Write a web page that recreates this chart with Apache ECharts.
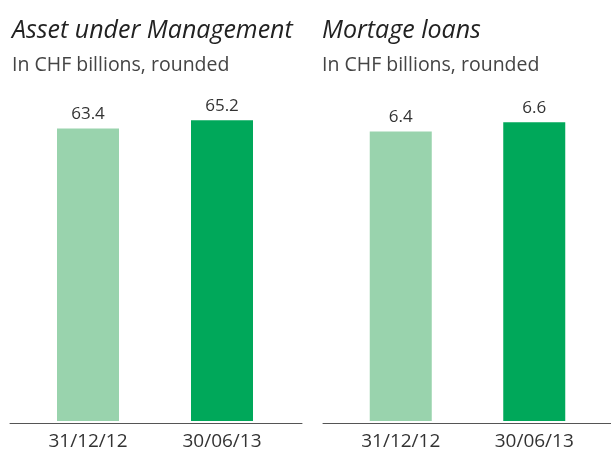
<!DOCTYPE html>
<html>
<head>
<meta charset="utf-8">
<script src="https://cdn.jsdelivr.net/npm/echarts@6/dist/echarts.min.js"></script>
<style>
  html, body { margin: 0; padding: 0; background: #fff; }
  #chart { width: 611px; height: 451px; }
</style>
</head>
<body>
<div id="chart"></div>
<script>
// data
const categories = ['31/12/12', '30/06/13']
const aumValues = [63.4, 65.2]
const mortgageValues = [6.4, 6.6]
const panelTitles = ['Asset under Management', 'Mortage loans']
const panelSubtitle = 'In CHF billions, rounded'

const barColors = ['#99d3ad', '#00a85a']
const font = '"Open Sans", sans-serif'

const chart = echarts.init(document.getElementById('chart'))

// bars as data items so each gets its own colour
function barData (values) {
  return values.map((v, i) => ({ value: v, itemStyle: { color: barColors[i] } }))
}

// axis used only for the long baseline under each panel
function baseAxis (gridIndex) {
  return {
    type: 'category',
    gridIndex: gridIndex,
    data: [''],
    axisLine: { show: true, lineStyle: { color: '#555', width: 1 } },
    axisTick: { show: false },
    axisLabel: { show: false }
  }
}

function barAxis (gridIndex) {
  return {
    type: 'category',
    gridIndex: gridIndex,
    data: categories,
    axisLine: { show: false },
    axisTick: { show: false },
    axisLabel: {
      margin: 11,
      fontFamily: font,
      fontSize: 19,
      color: '#333'
    }
  }
}

function hiddenY (gridIndex, max) {
  return {
    type: 'value',
    gridIndex: gridIndex,
    min: 0,
    max: max,
    show: false
  }
}

function panelTitle (i, left) {
  return {
    text: panelTitles[i],
    subtext: panelSubtitle,
    left: left,
    top: 13,
    itemGap: 12,
    textStyle: { fontFamily: font, fontStyle: 'italic', fontWeight: 'normal', fontSize: 25, color: '#222' },
    subtextStyle: { fontFamily: font, fontSize: 19.5, color: '#444' }
  }
}

function valueLabel () {
  return {
    show: true,
    position: 'top',
    distance: 6,
    fontFamily: font,
    fontSize: 17,
    color: '#333'
  }
}

const option = {
  animation: false,
  title: [panelTitle(0, 7), panelTitle(1, 317)],
  grid: [
    { left: 21, right: 322, top: 52, bottom: 28 },
    { left: 334, right: 10, top: 59, bottom: 28 },
    { left: 10, right: 309, top: 52, bottom: 28 },
    { left: 323, right: 0, top: 59, bottom: 28 }
  ],
  xAxis: [barAxis(0), barAxis(1), baseAxis(2), baseAxis(3)],
  yAxis: [hiddenY(0, 80), hiddenY(1, 8), hiddenY(2, 80), hiddenY(3, 8)],
  series: [
    {
      type: 'bar',
      xAxisIndex: 0,
      yAxisIndex: 0,
      barWidth: 62,
      data: barData(aumValues),
      label: valueLabel()
    },
    {
      type: 'bar',
      xAxisIndex: 1,
      yAxisIndex: 1,
      barWidth: 62,
      data: barData(mortgageValues),
      label: valueLabel()
    }
  ]
}

chart.setOption(option)
</script>
</body>
</html>
